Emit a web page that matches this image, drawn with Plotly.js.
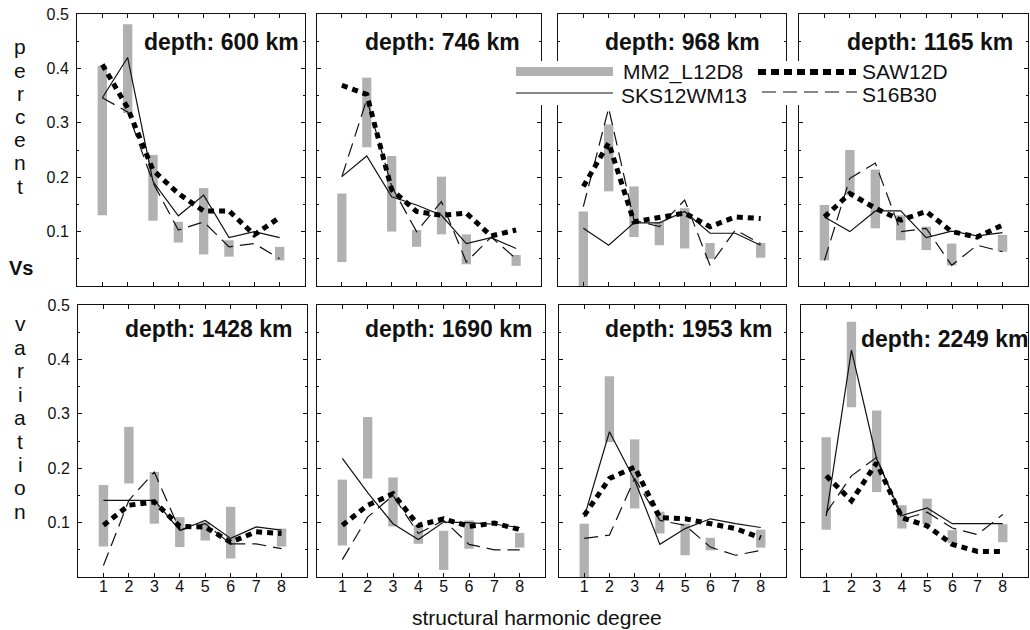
<!DOCTYPE html>
<html>
<head>
<meta charset="utf-8">
<script src="https://cdn.plot.ly/plotly-3.0.1.min.js"></script>
<style>
  html, body { margin: 0; padding: 0; background: #ffffff; }
  #chart { width: 1030px; height: 630px; }
</style>
</head>
<body>
<div id="chart"></div>
<script>
// Structural harmonic degree on the x axis of every panel
const degrees = [1, 2, 3, 4, 5, 6, 7, 8];

// Depth of each panel (km), top row then bottom row
const depthKm = [600, 746, 968, 1165, 1428, 1690, 1953, 2249];

// MM2_L12D8: range of percent Vs variation (low / high end of each grey bar)
const mm2Low = [
  [0.130, 0.318, 0.120, 0.080, 0.058, 0.054, null, 0.047],
  [0.044, 0.255, 0.100, 0.072, 0.095, 0.040, null, 0.037],
  [0.000, 0.174, 0.090, 0.075, 0.069, 0.050, null, 0.052],
  [0.047, 0.167, 0.106, 0.084, 0.066, 0.038, null, 0.063],
  [0.056, 0.172, 0.098, 0.055, 0.067, 0.034, null, 0.056],
  [0.058, 0.181, 0.093, 0.061, 0.013, 0.052, null, 0.054],
  [0.000, 0.248, 0.126, 0.080, 0.040, 0.049, null, 0.054],
  [0.087, 0.312, 0.156, 0.089, 0.097, 0.062, null, 0.064]
];
const mm2High = [
  [0.405, 0.481, 0.241, 0.118, 0.180, 0.084, null, 0.072],
  [0.170, 0.383, 0.239, 0.103, 0.201, 0.095, null, 0.057],
  [0.137, 0.297, 0.183, 0.118, 0.143, 0.079, null, 0.079],
  [0.149, 0.250, 0.214, 0.130, 0.109, 0.078, null, 0.094],
  [0.169, 0.276, 0.193, 0.110, 0.101, 0.129, null, 0.089],
  [0.179, 0.294, 0.183, 0.095, 0.085, 0.104, null, 0.081],
  [0.098, 0.369, 0.253, 0.120, 0.098, 0.072, null, 0.087],
  [0.257, 0.469, 0.306, 0.132, 0.144, 0.086, null, 0.097]
];

// SKS12WM13 (thin solid line)
const sks12wm13 = [
  [0.346, 0.420, 0.192, 0.129, 0.167, 0.089, 0.100, 0.089],
  [0.201, 0.239, 0.164, 0.149, 0.130, 0.078, 0.089, 0.069],
  [0.106, 0.075, 0.116, 0.116, 0.137, 0.097, 0.097, 0.075],
  [0.127, 0.100, 0.138, 0.138, 0.089, 0.101, 0.092, 0.098],
  [0.141, 0.141, 0.141, 0.086, 0.104, 0.071, 0.092, 0.086],
  [0.218, 0.155, 0.098, 0.069, 0.101, 0.100, 0.097, 0.091],
  [0.110, 0.267, 0.178, 0.060, 0.089, 0.107, 0.098, 0.091],
  [0.112, 0.417, 0.217, 0.113, 0.127, 0.098, 0.098, 0.098]
];

// SAW12D (heavy dotted line)
const saw12d = [
  [0.407, 0.327, 0.213, 0.170, 0.138, 0.138, 0.094, 0.126],
  [0.369, 0.352, 0.177, 0.137, 0.130, 0.134, 0.092, 0.103],
  [0.183, 0.263, 0.118, 0.127, 0.134, 0.109, 0.127, 0.124],
  [0.127, 0.170, 0.143, 0.121, 0.137, 0.100, 0.090, 0.112],
  [0.095, 0.132, 0.138, 0.093, 0.092, 0.064, 0.083, 0.080],
  [0.095, 0.132, 0.153, 0.095, 0.107, 0.093, 0.099, 0.087],
  [0.113, 0.181, 0.202, 0.109, 0.107, 0.098, 0.089, 0.072],
  [0.186, 0.140, 0.210, 0.109, 0.094, 0.060, 0.047, 0.047]
];

// S16B30 (thin dashed line)
const s16b30 = [
  [0.346, 0.320, 0.190, 0.103, 0.118, 0.072, 0.078, 0.050],
  [0.201, 0.343, 0.183, 0.100, 0.155, 0.044, 0.090, 0.050],
  [0.146, 0.327, 0.121, 0.109, 0.158, 0.038, 0.103, 0.078],
  [0.047, 0.198, 0.226, 0.100, 0.106, 0.038, 0.075, 0.063],
  [0.021, 0.141, 0.193, 0.086, 0.098, 0.061, 0.061, 0.052],
  [0.032, 0.110, 0.150, 0.080, 0.104, 0.060, 0.050, 0.050],
  [0.071, 0.077, 0.181, 0.104, 0.095, 0.055, 0.040, 0.049],
  [0.118, 0.186, 0.220, 0.106, 0.119, 0.090, 0.078, 0.115]
];

// Tick labels
const yTickVals = [0.1, 0.2, 0.3, 0.4, 0.5];
const yTickText = ['0.1', '0.2', '0.3', '0.4', '0.5'];

// ---- page geometry (pixels) ----
const W = 1030, H = 630;
const px = v => v / W;
const py = v => 1 - v / H;

// panel boxes: [left, right, top, bottom] in pixels
const panelBox = [
  [77, 305, 14, 286], [317, 541, 14, 286], [558, 786, 14, 286], [799, 1028, 14, 286],
  [78, 307, 305, 577], [317, 545, 305, 577], [559, 786, 305, 577], [801, 1028, 305, 577]
];
// depth label anchor per panel (left edge in degree units, centre in percent units)
const labelPos = [
  [2.57, 0.449], [1.85, 0.449], [1.78, 0.449], [1.81, 0.449],
  [1.77, 0.456], [1.82, 0.456], [1.75, 0.456], [2.29, 0.437]
];

const FONT = 'Liberation Sans, Arial, Helvetica, sans-serif';
const INK = '#111111';
const BAR_GREY = '#b1b1b1';
const DOT_DASH = '6px,5px';
const LONG_DASH = '14px,7px';

const traces = [];
const layout = {
  width: W, height: H,
  margin: { l: 0, r: 0, t: 0, b: 0 },
  paper_bgcolor: '#ffffff',
  plot_bgcolor: '#ffffff',
  showlegend: false,
  font: { family: FONT, color: INK },
  annotations: [],
  shapes: []
};

for (let i = 0; i < 8; i++) {
  const sfx = i === 0 ? '' : String(i + 1);
  const xa = 'x' + sfx, ya = 'y' + sfx;
  const [l, r, t, b] = panelBox[i];
  const bottomRow = i >= 4;
  const leftCol = i % 4 === 0;

  layout['xaxis' + sfx] = {
    domain: [px(l), px(r)],
    anchor: ya,
    range: [0, 9],
    tickvals: degrees,
    ticktext: degrees.map(String),
    showticklabels: bottomRow,
    ticks: 'inside', ticklen: 4, tickcolor: INK, tickwidth: 1,
    showline: true, linecolor: INK, linewidth: 1, mirror: 'ticks',
    showgrid: false, zeroline: false,
    ticklabelstandoff: -5,
    tickfont: { family: FONT, size: 16, color: INK },
    fixedrange: true
  };
  layout['yaxis' + sfx] = {
    domain: [py(b), py(t)],
    anchor: xa,
    range: [0, 0.5],
    tickvals: yTickVals,
    ticktext: yTickText,
    showticklabels: leftCol,
    ticks: 'inside', ticklen: 4, tickcolor: INK, tickwidth: 1,
    minor: { dtick: 0.05, ticks: 'inside', ticklen: 2, tickcolor: INK },
    showline: true, linecolor: INK, linewidth: 1, mirror: 'ticks',
    showgrid: false, zeroline: false,
    ticklabelstandoff: 4,
    tickfont: { family: FONT, size: 16, color: INK },
    fixedrange: true
  };

  // grey range bars
  traces.push({
    type: 'bar', xaxis: xa, yaxis: ya,
    x: degrees,
    base: mm2Low[i],
    y: mm2High[i].map((h, k) => (h === null ? null : h - mm2Low[i][k])),
    width: 0.37,
    marker: { color: BAR_GREY, line: { width: 0 } },
    hoverinfo: 'skip', name: 'MM2_L12D8'
  });
  traces.push({
    type: 'scatter', mode: 'lines', xaxis: xa, yaxis: ya,
    x: degrees, y: s16b30[i],
    line: { color: INK, width: 1.2, dash: LONG_DASH },
    hoverinfo: 'skip', name: 'S16B30'
  });
  traces.push({
    type: 'scatter', mode: 'lines', xaxis: xa, yaxis: ya,
    x: degrees, y: sks12wm13[i],
    line: { color: INK, width: 1.2 },
    hoverinfo: 'skip', name: 'SKS12WM13'
  });
  traces.push({
    type: 'scatter', mode: 'lines', xaxis: xa, yaxis: ya,
    x: degrees, y: saw12d[i],
    line: { color: '#000000', width: 5, dash: DOT_DASH },
    hoverinfo: 'skip', name: 'SAW12D'
  });

  layout.annotations.push({
    xref: xa, yref: ya,
    x: labelPos[i][0], y: labelPos[i][1],
    xanchor: 'left', yanchor: 'middle',
    text: 'depth: ' + depthKm[i] + ' km',
    showarrow: false,
    font: { family: FONT, size: 23, color: INK, weight: 'bold' }
  });
}

// vertical axis title, one letter per line
function stackLetters(word, x, yStart, step, bold) {
  [...word].forEach((ch, k) => {
    layout.annotations.push({
      xref: 'paper', yref: 'paper',
      x: px(x), y: py(yStart + k * step),
      xanchor: 'center', yanchor: 'middle',
      text: ch, showarrow: false,
      font: { family: FONT, size: 21, color: INK, weight: bold ? 'bold' : 'normal' }
    });
  });
}
stackLetters('percent', 20, 47, 23.2, false);
layout.annotations.push({
  xref: 'paper', yref: 'paper', x: px(21), y: py(268),
  xanchor: 'center', yanchor: 'middle', text: 'Vs', showarrow: false,
  font: { family: FONT, size: 20, color: INK, weight: 'bold' }
});
stackLetters('variation', 20, 324, 23.4, false);

// horizontal axis title
layout.annotations.push({
  xref: 'paper', yref: 'paper', x: px(537), y: py(617),
  xanchor: 'center', yanchor: 'middle',
  text: 'structural harmonic degree', showarrow: false,
  font: { family: FONT, size: 21, color: INK }
});

// key: white panel, swatches and names
layout.shapes.push({
  type: 'rect', xref: 'paper', yref: 'paper', layer: 'above',
  x0: px(509), x1: px(952), y0: py(105), y1: py(61),
  fillcolor: '#ffffff', line: { width: 0 }
});
layout.shapes.push({
  type: 'rect', xref: 'paper', yref: 'paper', layer: 'above',
  x0: px(516), x1: px(613), y0: py(76), y1: py(67),
  fillcolor: BAR_GREY, line: { width: 0 }
});
layout.shapes.push({
  type: 'line', xref: 'paper', yref: 'paper', layer: 'above',
  x0: px(758), x1: px(856), y0: py(72), y1: py(72),
  line: { color: '#000000', width: 6, dash: '8px,5px' }
});
layout.shapes.push({
  type: 'line', xref: 'paper', yref: 'paper', layer: 'above',
  x0: px(516), x1: px(613), y0: py(93), y1: py(93),
  line: { color: INK, width: 1.2 }
});
layout.shapes.push({
  type: 'line', xref: 'paper', yref: 'paper', layer: 'above',
  x0: px(762), x1: px(857), y0: py(92), y1: py(92),
  line: { color: INK, width: 1.2, dash: LONG_DASH }
});
const keyNames = [
  ['MM2_L12D8', 621, 72],
  ['SAW12D', 860, 71],
  ['SKS12WM13', 619, 95],
  ['S16B30', 860, 94]
];
keyNames.forEach(([txt, x, y]) => {
  layout.annotations.push({
    xref: 'paper', yref: 'paper', x: px(x), y: py(y),
    xanchor: 'left', yanchor: 'middle', text: txt, showarrow: false,
    font: { family: FONT, size: 21, color: INK }
  });
});

Plotly.newPlot('chart', traces, layout, { displayModeBar: false, staticPlot: true });
</script>
</body>
</html>
